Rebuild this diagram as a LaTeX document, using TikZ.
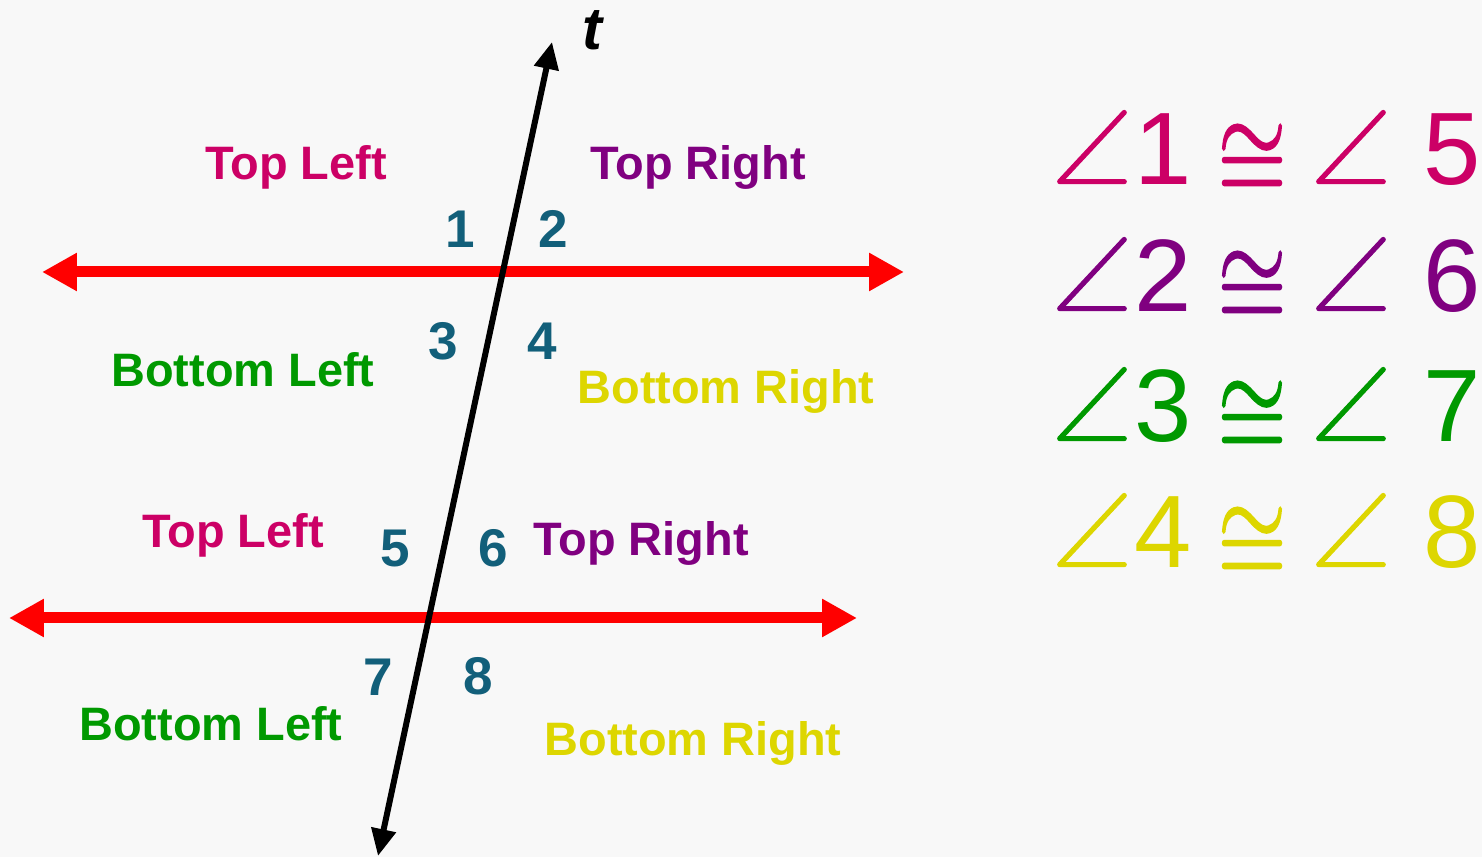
\documentclass[tikz,border=0pt]{standalone}
\usepackage{graphicx}
\usepackage{fontspec}
\setmainfont{Liberation Sans}
\newfontfamily\mathsyms{latinmodern-math.otf}[FakeBold=1]
\newfontfamily\congfont{latinmodern-math.otf}[FakeBold=1.6]
\usetikzlibrary{arrows.meta}
\definecolor{tlcol}{RGB}{204,0,102}
\definecolor{trcol}{RGB}{128,0,128}
\definecolor{blcol}{RGB}{0,153,0}
\definecolor{brcol}{RGB}{221,214,0}
\definecolor{numcol}{RGB}{18,95,122}
\definecolor{bgcol}{RGB}{248,248,248}
\begin{document}
\begin{tikzpicture}[x=0.02cm,y=-0.02cm,
  region/.style={font=\fontsize{26.7}{30}\selectfont\bfseries, inner sep=0pt, anchor=base},
  anglenum/.style={font=\fontsize{30.2}{34}\selectfont\bfseries, text=numcol, inner sep=0pt, anchor=base},
  bigdigit/.style={font=\fontsize{58.6}{66}\selectfont, inner sep=0pt, anchor=base},
  anglesym/.style={font=\mathsyms\fontsize{58.6}{66}\selectfont, inner sep=0pt, anchor=base},
  congsym/.style={font=\congfont\fontsize{48}{54}\selectfont, inner sep=0pt, anchor=center},
  parline/.style={draw=red, line width=0.22cm, {Triangle[length=0.7cm,width=0.72cm]}-{Triangle[length=0.7cm,width=0.72cm]}},
  transline/.style={draw=black, line width=0.12cm, {Triangle[length=0.54cm,width=0.48cm]}-{Triangle[length=0.54cm,width=0.48cm]}}]
\fill[bgcol] (0,0) rectangle (1482,857);
\useasboundingbox (0,0) rectangle (1482,857);
\coordinate (p1l) at (42,272);
\coordinate (p1r) at (904,272);
\coordinate (p2l) at (9,618);
\coordinate (p2r) at (857,618);
\coordinate (tbot) at (378,856);
\coordinate (ttop) at (552,42);
\draw[parline] (p1l) -- (p1r);
\draw[parline] (p2l) -- (p2r);
\draw[transline] (tbot) -- (ttop);
\node[font=\fontsize{34}{38}\selectfont\bfseries\itshape, inner sep=0pt, anchor=base] (tlab) at (592,50) {t};
\node[region, text=tlcol] (tl1) at (296,180) {Top Left};
\node[region, text=trcol] (tr1) at (698,180) {Top Right};
\node[region, text=blcol] (bl1) at (243,387) {Bottom Left};
\node[region, text=brcol] (br1) at (726,404) {Bottom Right};
\node[region, text=tlcol] (tl2) at (233,548) {Top Left};
\node[region, text=trcol] (tr2) at (641,556) {Top Right};
\node[region, text=blcol] (bl2) at (211,741) {Bottom Left};
\node[region, text=brcol] (br2) at (693,756) {Bottom Right};
\node[anglenum] (n1) at (460,248) {1};
\node[anglenum] (n2) at (553,248) {2};
\node[anglenum] (n3) at (443,360) {3};
\node[anglenum] (n4) at (542,360) {4};
\node[anglenum] (n5) at (395,567) {5};
\node[anglenum] (n6) at (493,567) {6};
\node[anglenum] (n7) at (378,696) {7};
\node[anglenum] (n8) at (478,695) {8};
\foreach \r/\a/\b/\c/\y in {1/1/5/tlcol/185, 2/2/6/trcol/312, 3/3/7/blcol/442, 4/4/8/brcol/568} {
  \node[anglesym, text=\c] (anga\r) at (1092,\y) {∠};
  \node[bigdigit, text=\c] (diga\r) at (1163,\y) {\a};
  \node[congsym, text=\c] (cong\r) at (1252,\y-28) {\scalebox{1.05}[1.4]{≅}};
  \node[anglesym, text=\c] (angb\r) at (1351,\y) {∠};
  \node[bigdigit, text=\c] (digb\r) at (1452,\y) {\b};
}
\end{tikzpicture}
\end{document}
